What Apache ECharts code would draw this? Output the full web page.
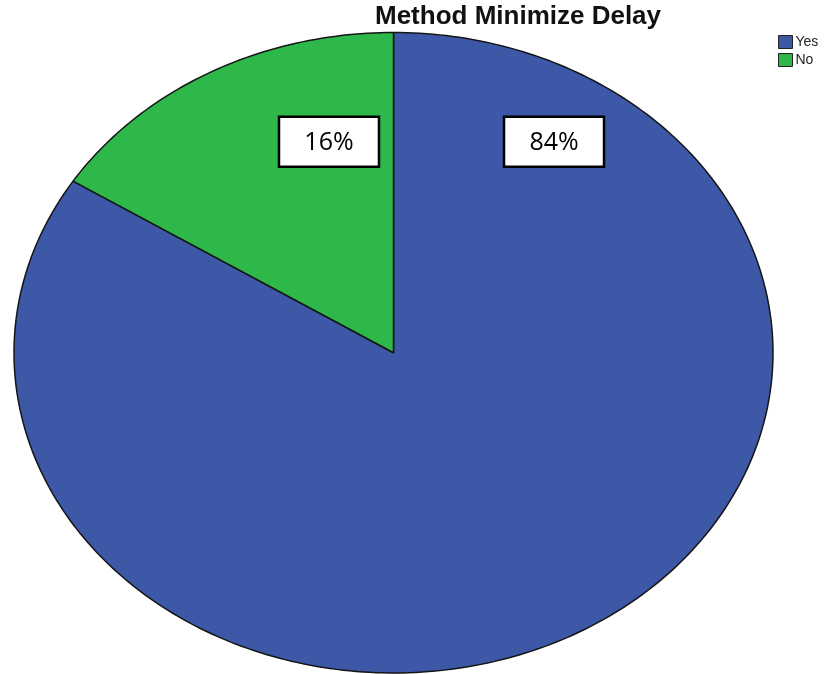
<!DOCTYPE html>
<html>
<head>
<meta charset="utf-8">
<script src="https://cdn.jsdelivr.net/npm/echarts@6/dist/echarts.min.js"></script>
<style>
  html, body { margin: 0; padding: 0; background: #fff; }
  #chart { width: 834px; height: 674px; }
</style>
</head>
<body>
<div id="chart"></div>
<script>
// Answers to "Method Minimize Delay"
const categories = ['Yes', 'No'];
const percents = [84, 16];

const sliceColors = ['#3E58A8', '#2EB84A'];
// Where each percentage box sits, in unit-ellipse coordinates
const labelSpots = [[0.423, 0.659], [-0.17, 0.659]];

const total = percents.reduce((a, b) => a + b, 0);

function sliceSeries(i) {
  const before = percents.slice(0, i).reduce((a, b) => a + b, 0);
  return {
    type: 'custom',
    name: categories[i],
    coordinateSystem: 'cartesian2d',
    data: [[0, 0, percents[i]]],
    encode: { x: 0, y: 1 },
    itemStyle: { color: sliceColors[i] },
    silent: true,
    renderItem: function (params, api) {
      const value = api.value(2);
      // slices run clockwise from twelve o'clock
      const a0 = before / total * Math.PI * 2;
      const a1 = (before + value) / total * Math.PI * 2;
      const steps = Math.max(8, Math.ceil((a1 - a0) / (Math.PI / 180)));
      const pts = [api.coord([0, 0])];
      for (let k = 0; k <= steps; k++) {
        const t = a0 + (a1 - a0) * k / steps;
        pts.push(api.coord([Math.sin(t), Math.cos(t)]));
      }
      const c = api.coord(labelSpots[i]);
      const bw = 100, bh = 50;
      return {
        type: 'group',
        children: [
          {
            type: 'polygon',
            shape: { points: pts },
            style: { fill: sliceColors[i], stroke: '#151515', lineWidth: 1.5, lineJoin: 'round' }
          },
          {
            type: 'rect',
            shape: { x: c[0] - bw / 2, y: c[1] - bh / 2, width: bw, height: bh },
            style: { fill: '#ffffff', stroke: '#000000', lineWidth: 2.5 },
            z2: 10
          },
          {
            type: 'text',
            x: c[0], y: c[1] + 1,
            style: {
              text: value + '%',
              fill: '#000',
              font: '25px "Open Sans", sans-serif',
              align: 'center',
              verticalAlign: 'middle'
            },
            z2: 11
          }
        ]
      };
    }
  };
}

const chart = echarts.init(document.getElementById('chart'), null, { renderer: 'canvas' });
chart.setOption({
  animation: false,
  backgroundColor: '#ffffff',
  title: {
    text: 'Method Minimize Delay',
    left: 375,
    top: 4,
    padding: 0,
    textStyle: {
      fontFamily: '"Liberation Sans", Arial, sans-serif',
      fontSize: 26,
      fontWeight: 'bold',
      color: '#111'
    }
  },
  legend: {
    data: categories,
    orient: 'vertical',
    left: 778,
    top: 35,
    padding: 0,
    itemWidth: 14,
    itemHeight: 13,
    itemGap: 4,
    icon: 'rect',
    selectedMode: false,
    itemStyle: { borderColor: '#222', borderWidth: 1 },
    textStyle: {
      fontFamily: '"Liberation Sans", Arial, sans-serif',
      fontSize: 14,
      color: '#222',
      padding: [0, 0, 0, -2]
    }
  },
  grid: { left: 14, right: 61, top: 32.5, bottom: 1, containLabel: false },
  xAxis: { type: 'value', min: -1, max: 1, show: false },
  yAxis: { type: 'value', min: -1, max: 1, show: false },
  series: categories.map((_, i) => sliceSeries(i))
});
</script>
</body>
</html>
